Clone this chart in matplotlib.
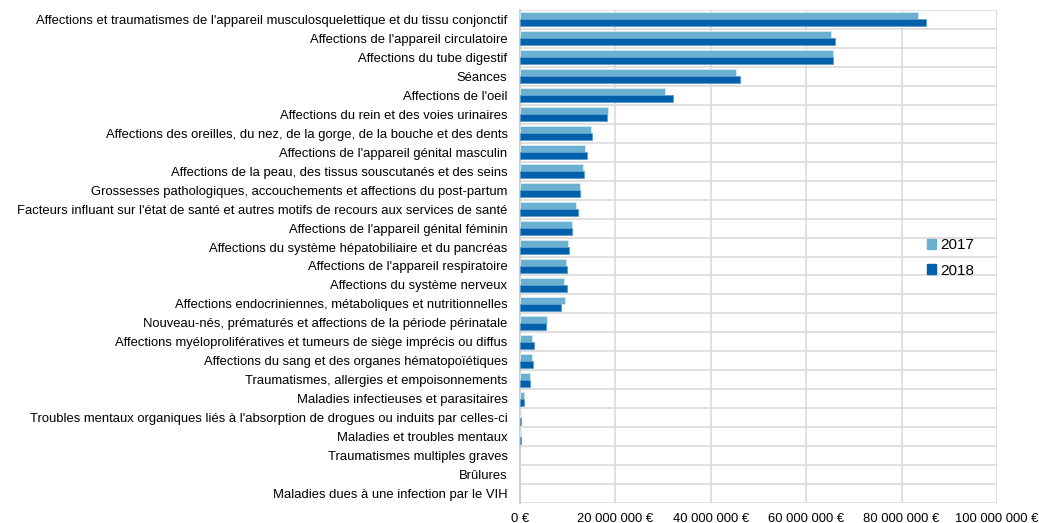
import numpy as np
import matplotlib
matplotlib.use("Agg")
from matplotlib import pyplot as plt
from matplotlib.ticker import FuncFormatter, MultipleLocator
from matplotlib.patches import Patch

plt.rcParams['font.family'] = ['Liberation Sans', 'DejaVu Sans']

categories = [
    "Affections et traumatismes de l'appareil musculosquelettique et du tissu conjonctif",
    "Affections de l'appareil circulatoire",
    "Affections du tube digestif",
    "Séances",
    "Affections de l'oeil",
    "Affections du rein et des voies urinaires",
    "Affections des oreilles, du nez, de la gorge, de la bouche et des dents",
    "Affections de l'appareil génital masculin",
    "Affections de la peau, des tissus souscutanés et des seins",
    "Grossesses pathologiques, accouchements et affections du post-partum",
    "Facteurs influant sur l'état de santé et autres motifs de recours aux services de santé",
    "Affections de l'appareil génital féminin",
    "Affections du système hépatobiliaire et du pancréas",
    "Affections de l'appareil respiratoire",
    "Affections du système nerveux",
    "Affections endocriniennes, métaboliques et nutritionnelles",
    "Nouveau-nés, prématurés et affections de la période périnatale",
    "Affections myéloprolifératives et tumeurs de siège imprécis ou diffus",
    "Affections du sang et des organes hématopoïétiques",
    "Traumatismes, allergies et empoisonnements",
    "Maladies infectieuses et parasitaires",
    "Troubles mentaux organiques liés à l'absorption de drogues ou induits par celles-ci",
    "Maladies et troubles mentaux",
    "Traumatismes multiples graves",
    "Brûlures",
    "Maladies dues à une infection par le VIH",
]

# montants en millions d'euros
values_2017 = [83.5, 65.2, 65.6, 45.3, 30.3, 18.4, 14.9, 13.6, 13.2, 12.6, 11.8, 11.0, 10.1,
               9.6, 9.3, 9.4, 5.7, 2.5, 2.5, 2.1, 0.8, 0.3, 0.25, 0.0, 0.0, 0.0]
values_2018 = [85.1, 66.0, 65.6, 46.1, 32.0, 18.2, 15.1, 14.0, 13.4, 12.5, 12.1, 11.0, 10.2,
               9.8, 9.8, 8.7, 5.5, 2.9, 2.7, 2.1, 0.8, 0.3, 0.25, 0.0, 0.0, 0.0]

c2017 = '#6AB0D0'
c2018 = '#0060AA'

fig = plt.figure(figsize=(10.39, 5.23), dpi=100)
ax = fig.add_axes([520 / 1039, 1 - 503 / 523, 477 / 1039, 493 / 523])

y = np.arange(len(categories))
h = 0.37
v17 = np.array(values_2017) * 1e6
v18 = np.array(values_2018) * 1e6
ax.barh(y - h / 2, v17, height=h, color=c2017, edgecolor='#D6EAF3',
        linewidth=np.where(v17 > 0, 0.6, 0), zorder=3)
ax.barh(y + h / 2, v18, height=h, color=c2018, edgecolor='#5A9AD0',
        linewidth=np.where(v18 > 0, 0.6, 0), zorder=3)

ax.set_ylim(len(categories) - 0.5, -0.5)
ax.set_xlim(0, 100e6)
ax.set_yticks(y)
ax.set_yticklabels(categories, fontsize=9.4)
ax.set_yticks(np.arange(len(categories) + 1) - 0.5, minor=True)
ax.xaxis.set_major_locator(MultipleLocator(20e6))


def euro(v, pos):
    return f"{int(round(v)):,}".replace(",", " ") + " €"


ax.xaxis.set_major_formatter(FuncFormatter(euro))
ax.tick_params(axis='x', labelsize=9.4, length=0, pad=7)
ax.tick_params(axis='y', which='both', length=0, pad=9)

ax.grid(axis='x', which='major', color='#DADADA', linewidth=1.2, zorder=0)
ax.grid(axis='y', which='minor', color='#DADADA', linewidth=1.2, zorder=0)
ax.grid(axis='y', which='major', visible=False)
for s in ax.spines.values():
    s.set_visible(False)
ax.spines['left'].set_visible(True)
ax.spines['left'].set_color('#CFCFCF')
ax.spines['left'].set_linewidth(1.5)

handles = [Patch(color=c2017, label='2017'), Patch(color=c2018, label='2018')]
fig.legend(handles=handles, loc='center left', bbox_to_anchor=(913 / 1039, 1 - 258 / 523),
           frameon=False, fontsize=11, handlelength=0.6, handleheight=0.6,
           handletextpad=0.3, labelspacing=0.75)

plt.savefig('out.png', dpi=100)
